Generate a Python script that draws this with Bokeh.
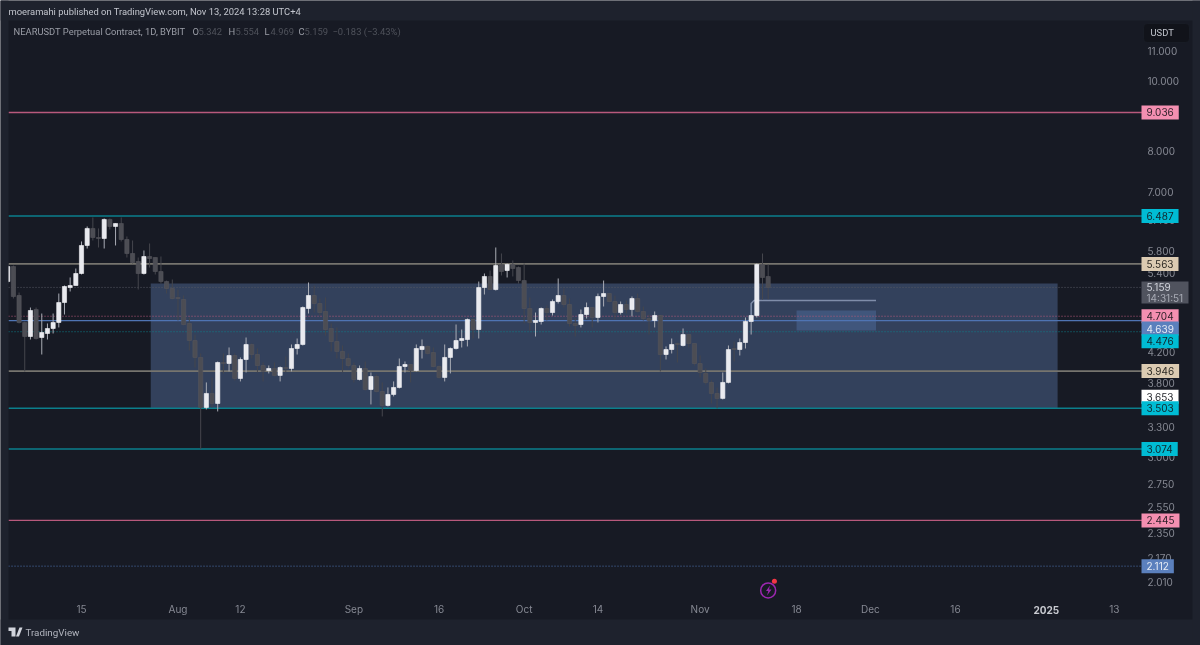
from bokeh.embed import file_html
from bokeh.resources import INLINE
from bokeh.plotting import figure
from bokeh.models import (BoxAnnotation, ColumnDataSource, FixedTicker, Label,
                          NumeralTickFormatter, PolyAnnotation, Range1d)

# candles, one per day, day 0 is 15 Jul 2024
opens = [5.257, 5.517, 5.027, 4.611, 4.408, 4.806, 4.394, 4.451, 4.523, 4.611, 4.915, 5.157, 5.191,
         5.394, 5.901, 6.232, 6.054, 6.035, 6.414, 6.272, 6.332, 6.015, 5.751, 5.606, 5.394, 5.696, 5.678,
         5.429, 5.257, 5.141, 4.995, 4.963, 4.596, 4.352, 4.122, 3.512, 3.673, 3.557, 4.056, 4.043, 4.148,
         3.854, 4.095, 4.297, 4.161, 4.017, 3.953, 3.979, 3.891, 3.991, 3.979, 4.242, 4.297, 4.822, 5.027,
         4.900, 4.776, 4.523, 4.338, 4.202, 4.108, 4.017, 3.841, 3.979, 3.720, 3.878, 3.696, 3.534, 3.661,
         3.744, 4.004, 4.030, 3.953, 4.228, 4.270, 4.188, 4.004, 3.866, 4.122, 4.242, 4.352, 4.366, 4.655,
         4.508, 5.157, 5.343, 5.124, 5.552, 5.446, 5.552, 5.499, 5.274, 4.822, 4.611, 4.625, 4.822, 4.760,
         4.931, 5.027, 4.884, 4.596, 4.581, 4.730, 4.837, 4.685, 5.011, 5.059, 4.931, 4.760, 4.884, 4.806,
         4.979, 4.776, 4.670, 4.640, 4.715, 4.161, 4.228, 4.310, 4.283, 4.436, 4.310, 4.043, 3.916, 3.805,
         3.673, 3.615, 3.805, 4.242, 4.228, 4.324, 4.625, 4.715, 5.552, 5.342]
highs = [5.552, 5.534, 5.075, 4.625, 4.837, 4.837, 4.745, 4.596, 4.745, 5.059, 5.191, 5.326, 5.481,
         5.977, 6.272, 6.455, 6.232, 6.434, 6.434, 6.332, 6.455, 6.074, 5.996, 5.678, 5.807, 5.939, 5.678,
         5.696, 5.274, 5.291, 5.124, 5.027, 4.685, 4.436, 4.175, 3.805, 3.866, 4.069, 4.175, 4.256, 4.175,
         4.122, 4.394, 4.310, 4.242, 4.056, 4.017, 4.056, 4.004, 4.135, 4.297, 4.380, 4.853, 5.241, 5.191,
         4.979, 4.995, 4.596, 4.538, 4.283, 4.175, 4.056, 4.017, 4.069, 3.928, 3.903, 3.805, 3.744, 3.817,
         4.108, 4.069, 4.030, 4.297, 4.366, 4.283, 4.256, 4.017, 4.297, 4.256, 4.581, 4.508, 4.670, 4.670,
         5.257, 5.394, 5.446, 5.863, 5.751, 5.570, 5.624, 5.517, 5.570, 4.995, 4.760, 4.837, 4.868, 4.963,
         5.309, 5.141, 4.979, 4.670, 4.806, 4.915, 4.837, 5.059, 5.274, 5.059, 5.027, 4.931, 4.947, 5.011,
         5.059, 4.853, 4.730, 4.776, 4.715, 4.270, 4.380, 4.324, 4.523, 4.436, 4.310, 4.148, 3.979, 3.829,
         3.744, 3.928, 4.283, 4.338, 4.380, 4.685, 4.715, 5.570, 5.751, 5.554]
lows = [5.224, 4.979, 4.596, 3.941, 4.366, 4.366, 4.161, 4.366, 4.451, 4.538, 4.730, 5.092, 5.191,
        5.377, 5.844, 5.996, 5.863, 5.844, 6.212, 5.901, 5.977, 5.678, 5.570, 5.124, 5.377, 5.499, 5.377,
        5.224, 5.059, 4.963, 4.640, 4.567, 4.215, 3.991, 3.074, 3.489, 3.512, 3.467, 3.916, 3.941, 3.829,
        3.817, 3.928, 4.108, 3.928, 3.817, 3.916, 3.878, 3.817, 3.928, 3.941, 4.161, 4.283, 4.745, 4.760,
        4.715, 4.422, 4.202, 4.108, 3.928, 3.991, 3.805, 3.829, 3.708, 3.546, 3.685, 3.412, 3.523, 3.638,
        3.732, 3.928, 3.805, 3.941, 4.108, 4.161, 3.991, 3.854, 3.817, 3.916, 4.228, 4.256, 4.270, 4.380,
        4.380, 5.043, 5.124, 5.108, 5.360, 5.326, 5.343, 5.224, 4.596, 4.493, 4.408, 4.581, 4.640, 4.715,
        4.900, 4.837, 4.552, 4.408, 4.538, 4.670, 4.538, 4.611, 4.853, 4.915, 4.655, 4.730, 4.745, 4.700,
        4.760, 4.640, 4.436, 4.538, 3.941, 4.095, 4.175, 4.056, 4.270, 4.256, 4.017, 3.866, 3.780, 3.557,
        3.501, 3.603, 3.793, 4.069, 4.148, 4.242, 4.436, 4.685, 4.963, 4.969]
closes = [5.517, 5.011, 4.611, 4.408, 4.791, 4.380, 4.465, 4.523, 4.611, 4.915, 5.174, 5.191, 5.394,
          5.901, 6.232, 6.054, 6.035, 6.414, 6.272, 6.332, 6.015, 5.751, 5.588, 5.394, 5.696, 5.660, 5.429,
          5.257, 5.141, 4.979, 4.979, 4.581, 4.352, 4.122, 3.512, 3.673, 3.557, 4.056, 4.043, 4.148, 3.854,
          4.095, 4.297, 4.161, 4.017, 3.941, 3.979, 3.891, 3.991, 3.979, 4.242, 4.297, 4.837, 5.027, 4.900,
          4.760, 4.508, 4.338, 4.202, 4.108, 4.017, 3.841, 3.979, 3.720, 3.878, 3.696, 3.534, 3.661, 3.744,
          4.004, 4.030, 3.953, 4.242, 4.270, 4.175, 4.004, 3.866, 4.122, 4.242, 4.352, 4.380, 4.655, 4.508,
          5.157, 5.343, 5.124, 5.534, 5.429, 5.552, 5.481, 5.274, 4.822, 4.611, 4.640, 4.822, 4.760, 4.931,
          5.027, 4.884, 4.596, 4.567, 4.730, 4.837, 4.685, 5.011, 5.059, 4.931, 4.760, 4.884, 4.806, 4.979,
          4.776, 4.670, 4.640, 4.715, 4.161, 4.228, 4.297, 4.297, 4.436, 4.310, 4.043, 3.928, 3.805, 3.673,
          3.615, 3.805, 4.228, 4.228, 4.324, 4.625, 4.715, 5.552, 5.326, 5.159]
days = list(range(-13, -13 + len(opens)))

# horizontal levels drawn on the chart
solid_levels = [9.036, 6.487, 5.563, 3.946, 3.503, 3.074, 2.445, 4.639]
solid_colors = ["#b8597c", "#0b7f8c", "#76746e", "#76746e", "#0b7f8c", "#0b7f8c", "#b8597c", "#4f74b3"]
solid_widths = [1.3, 1.6, 1.8, 1.8, 1.6, 1.3, 1.3, 1.2]
dotted_levels = [5.159, 4.704, 4.476, 2.112]
dotted_colors = ["#565963", "#b8597c", "#0b7f8c", "#4f74b3"]

# the two zones and the little path in front of the last candles
zone_days = [12.2, 172.0]
zone_prices = [3.503, 5.224]
target_days = [126.0, 140.0]
target_prices = [4.493, 4.791]
path_days = [118.0, 118.0, 118.5, 140.0]
path_prices = [4.70, 4.90, 4.947, 4.947]

# axes
price_ticks = [11.0, 10.0, 8.0, 7.0, 6.4, 5.8, 5.4, 4.2, 3.8, 3.6, 3.3, 3.0, 2.75, 2.55, 2.35, 2.17, 2.01]
time_ticks = [0, 17, 28, 48, 63, 78, 91, 109, 126, 139, 154, 182]
time_labels = ["15", "Aug", "12", "Sep", "16", "Oct", "14", "Nov", "18", "Dec", "16", "13"]
year_tick = 170
year_label = "2025"

# price tags on the right: text, fill, text colour, shift in px
tags = [
    ("9.036", "#f48fb1", "#2a1e26", 0),
    ("6.487", "#00bcd4", "#10262c", 0),
    ("5.563", "#dccbb2", "#2b2822", 0),
    ("4.704", "#f48fb1", "#2a1e26", 0),
    ("4.639", "#5b80bd", "#e6ebf5", -8),
    ("4.476", "#00bcd4", "#10262c", -9.5),
    ("3.946", "#dccbb2", "#2b2822", 0),
    ("3.653", "#ffffff", "#24262c", -1.5),
    ("3.503", "#00bcd4", "#10262c", 0),
    ("3.074", "#00bcd4", "#10262c", 0),
    ("2.445", "#f48fb1", "#2a1e26", 0),
    ("2.112", "#5b80bd", "#e6ebf5", 0),
]

INNER = "#171a24"
OUTER = "#1e222d"
FONT = "Roboto"
NUM_FONT = "Inter"

# the frame takes the whole page so that tags and strips are not cut off,
# chart_* is the part of the x and y range where the chart itself lives
chart_left, chart_right = -12.86, 186.96
chart_bottom = 1.892

p = figure(width=1200, height=645, y_axis_type="log", y_axis_location="right",
           x_range=Range1d(-14.273, 197.18), y_range=Range1d(1.6378, 12.937),
           tools="", toolbar_location=None, output_backend="svg",
           min_border_left=0, min_border_right=0, min_border_top=0, min_border_bottom=0,
           background_fill_color=INNER, border_fill_color=INNER, outline_line_color=None,
           styles={"position": "fixed", "left": "0", "top": "0"})
p.grid.visible = False

p.yaxis.fixed_location = chart_right
p.yaxis.ticker = FixedTicker(ticks=price_ticks)
p.yaxis.formatter = NumeralTickFormatter(format="0.000")
p.yaxis.axis_line_color = None
p.yaxis.major_tick_line_color = None
p.yaxis.minor_tick_line_color = None
p.yaxis.major_tick_out = 0
p.yaxis.major_label_standoff = 5
p.yaxis.major_label_text_color = "#868993"
p.yaxis.major_label_text_font = NUM_FONT
p.yaxis.major_label_text_font_size = "10px"

p.xaxis.fixed_location = chart_bottom
p.xaxis.ticker = FixedTicker(ticks=time_ticks)
p.xaxis.major_label_overrides = dict(zip(time_ticks, time_labels))
p.xaxis.axis_line_color = None
p.xaxis.major_tick_line_color = None
p.xaxis.minor_tick_line_color = None
p.xaxis.major_tick_out = 0
p.xaxis.major_label_standoff = 3
p.xaxis.major_label_text_color = "#868993"
p.xaxis.major_label_text_font = NUM_FONT
p.xaxis.major_label_text_font_size = "10px"

# zones
p.quad(left=[zone_days[0]], right=[zone_days[1]], bottom=[zone_prices[0]], top=[zone_prices[1]],
       fill_color="#4f6894", fill_alpha=0.5, line_color=None)
p.quad(left=[target_days[0]], right=[target_days[1]], bottom=[target_prices[0]], top=[target_prices[1]],
       fill_color="#5a7fb8", fill_alpha=0.35, line_color=None)

# levels
p.segment(x0=chart_left, x1=chart_right, y0=solid_levels, y1=solid_levels,
          line_color=solid_colors, line_width=solid_widths)
p.segment(x0=chart_left, x1=chart_right, y0=dotted_levels, y1=dotted_levels,
          line_color=dotted_colors, line_width=1, line_dash="1 2")

p.line(path_days, path_prices, line_color="#7f8da9", line_width=1.5)

# candles
up = [c >= o for o, c in zip(opens, closes)]
source = ColumnDataSource(dict(
    day=days, low=lows, high=highs,
    top=[max(o, c) for o, c in zip(opens, closes)],
    bottom=[min(o, c) for o, c in zip(opens, closes)],
    body=["#e9eaef" if u else "#4c4d54" for u in up],
    edge=["#f7f7fa" if u else "#55565d" for u in up],
    wick=["#a9acb5" if u else "#45464d" for u in up],
))
p.segment("day", "low", "day", "high", source=source, color="wick", line_width=1)
p.vbar(x="day", width=0.74, top="top", bottom="bottom", source=source,
       fill_color="body", line_color="edge", line_width=0.6)


def px_box(left, right, top, bottom, color, **kw):
    p.add_layout(BoxAnnotation(left=left, right=right, top=top, bottom=bottom,
                               left_units="canvas", right_units="canvas",
                               top_units="canvas", bottom_units="canvas",
                               fill_color=color, fill_alpha=1, **kw))


def text(txt, x, y, color, size="9.4px", style="normal", font=FONT):
    # x, y are page pixels, y counted from the top
    p.add_layout(Label(x=x, y=645 - y, x_units="screen", y_units="screen", text=txt,
                       text_color=color, text_font=font, text_font_size=size, text_font_style=style,
                       text_baseline="middle", text_align="left"))


# frame round the chart
px_box(0, 1200, 0, 20, OUTER, line_color=None)
px_box(0, 1200, 619, 645, OUTER, line_color=None)
px_box(0, 8, 0, 645, OUTER, line_color=None)
px_box(1192, 1200, 0, 645, OUTER, line_color=None)

# year label is brighter than the other dates
p.add_layout(Label(x=year_tick, y=36, x_units="data", y_units="screen", text=year_label,
                   text_color="#c9cbd1", text_font=NUM_FONT, text_font_size="10px", text_font_style="bold",
                   text_baseline="middle", text_align="center"))

# published line and legend
text("moeramahi published on TradingView.com, Nov 13, 2024 13:28 UTC+4", 8, 11, "#c3c6ce")
text("NEARUSDT Perpetual Contract, 1D, BYBIT", 13, 31, "#9b9ea7")
for txt, x, color in [("O", 192, "#9b9ea7"), ("5.342", 198, "#4f525b"),
                      ("H", 228, "#9b9ea7"), ("5.554", 235, "#4f525b"),
                      ("L", 264, "#9b9ea7"), ("4.969", 270, "#4f525b"),
                      ("C", 298, "#9b9ea7"), ("5.159", 304, "#4f525b"),
                      ("\u22120.183 (\u22123.43%)", 332, "#4f525b")]:
    text(txt, x, 31, color)

# currency box
px_box(1143, 1189, 23, 42, "#11131a", line_color="#262a35", line_width=1, border_radius=4)
text("USDT", 1150, 32, "#c3c6ce")

# price tags
for txt, fill, ink, shift in tags:
    p.add_layout(Label(x=1141, y=float(txt), x_units="screen", y_units="data", y_offset=shift,
                       text=txt, text_color=ink, text_font=NUM_FONT, text_font_size="10px",
                       text_baseline="middle", text_align="left", padding=(5, 3),
                       background_fill_color=fill, background_fill_alpha=1))

# last price tag with countdown
px_box(1141, 1188, 281, 303, "#50535e", line_color=None)
text("5.159", 1146, 286.5, "#d1d4dc", size="10px", font=NUM_FONT)
text("14:31:51", 1146, 297.5, "#a8abb5", size="10px", font=NUM_FONT)

# footer
text("TradingView", 25, 632, "#b2b5be", size="9.8px")
logo = [
    ([8, 15, 15, 11, 11, 8], [627, 627, 636, 636, 630.5, 630.5]),
    ([19, 22, 18.5, 15.5], [627, 627, 636, 636]),
]
for xs, ys in logo:
    p.add_layout(PolyAnnotation(xs=xs, ys=ys, xs_units="canvas", ys_units="canvas",
                                fill_color="#d1d4dc", fill_alpha=1, line_color=None))

# lightning badge under the last candle
p.scatter([121], [1.954], size=15, marker="circle", fill_color=None, line_color="#9c27b0", line_width=1.5)
p.scatter([122.1], [2.012], size=5, marker="circle", fill_color="#f23645", line_color=None)
p.add_layout(PolyAnnotation(xs=[769.5, 765.5, 767.8, 766.5, 771, 768.5], ys=[585, 590.5, 590.5, 595, 589, 589],
                            xs_units="canvas", ys_units="canvas", fill_color="#9c27b0", fill_alpha=1,
                            line_color=None))

open("out.html", "w").write(file_html(p, INLINE))
